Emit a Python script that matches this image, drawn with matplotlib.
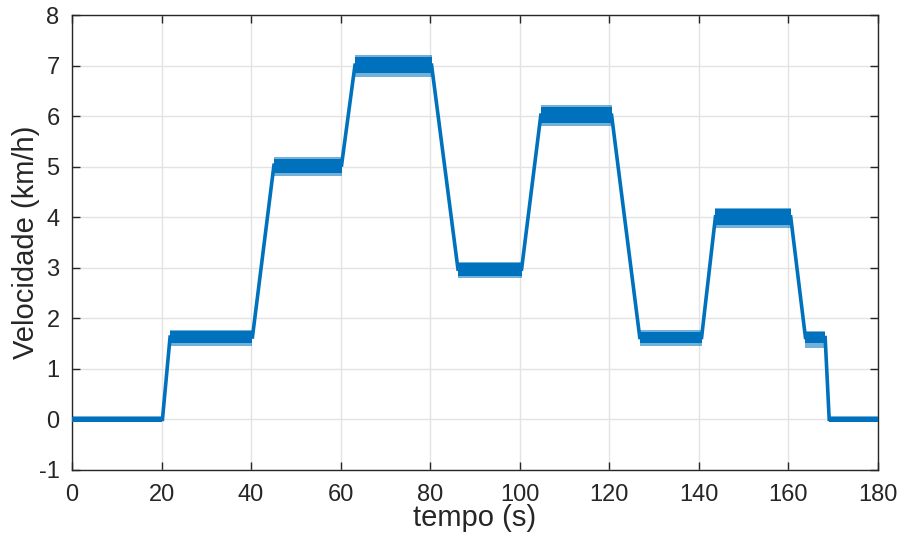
import matplotlib
matplotlib.use("Agg")
import matplotlib.pyplot as plt
from matplotlib import font_manager
import numpy as np

plt.rcParams["axes.unicode_minus"] = False

# ---- data ----
# centre path of the speed signal (breakpoints)
t_path = [0, 20.2, 21.9, 40.3, 45.1, 60.2, 63.2, 80.3, 86.2, 100.4, 104.7,
          120.5, 126.8, 140.6, 143.7, 160.5, 163.8, 168.2, 169.1, 180]
v_path = [0, 0, 1.63, 1.63, 5.03, 5.03, 7.01, 7.01, 2.97, 2.97, 6.02,
          6.02, 1.62, 1.62, 4.01, 4.01, 1.62, 1.62, 0, 0]

# plateaus: start, end, dense noise band (lo, hi), sparse spike band (lo, hi)
plat_start = [0, 21.9, 45.1, 63.2, 86.2, 104.7, 126.8, 143.7, 163.8, 169.1]
plat_end = [20.2, 40.3, 60.2, 80.3, 100.4, 120.5, 140.6, 160.5, 168.2, 180]
dense_lo = [-0.05, 1.52, 4.87, 6.86, 2.84, 5.86, 1.52, 3.84, 1.52, -0.05]
dense_hi = [0.05, 1.74, 5.16, 7.17, 3.09, 6.18, 1.72, 4.17, 1.73, 0.05]
spike_lo = [-0.06, 1.45, 4.81, 6.78, 2.80, 5.81, 1.46, 3.78, 1.42, -0.06]
spike_hi = [0.06, 1.77, 5.19, 7.20, 3.11, 6.21, 1.76, 4.19, 1.75, 0.06]

x_ticks = list(range(0, 181, 20))
y_ticks = list(range(-1, 9))

color = "#0072BD"
axis_col = "#262626"

names = {f.name for f in font_manager.fontManager.ttflist}
has_narrow = "Liberation Sans Narrow" in names
narrow = ["Liberation Sans Narrow", "Liberation Sans", "DejaVu Sans"] \
    if has_narrow else ["Liberation Sans", "DejaVu Sans"]
regular = ["Liberation Sans", "DejaVu Sans"]

fig = plt.figure(figsize=(9.06, 5.33), dpi=100)
ax = fig.add_axes([72 / 906, 63 / 533, 806 / 906, 455 / 533])

ax.plot(t_path, v_path, color=color, lw=2.6, solid_joinstyle="miter", zorder=3)
for s, e, dl, dh, sl, sh in zip(plat_start, plat_end, dense_lo, dense_hi, spike_lo, spike_hi):
    ax.fill_between([s, e], [sl, sl], [sh, sh], color=color, alpha=0.55, lw=0, zorder=2)
    ax.fill_between([s, e], [dl, dl], [dh, dh], color=color, lw=0, zorder=3)

ax.set_xlim(0, 180)
ax.set_ylim(-1, 8)
ax.set_xticks(x_ticks)
ax.set_yticks(y_ticks)
ax.grid(True, color="#e3e3e3", lw=1.0)
ax.set_axisbelow(True)

for sp in ax.spines.values():
    sp.set_color(axis_col)
    sp.set_linewidth(1.0)
tick_size = 19 if has_narrow else 17
ax.tick_params(direction="in", length=6, width=1.0, color=axis_col,
               top=True, right=True, labelcolor=axis_col, labelsize=tick_size,
               labelfontfamily=narrow[0])
ax.tick_params(axis="x", pad=10)
ax.tick_params(axis="y", pad=9)

ax.set_xlabel("tempo (s)", family=narrow, fontsize=23 if has_narrow else 21,
              color=axis_col, labelpad=-1)
ax.set_ylabel("Velocidade (km/h)", family=regular, fontsize=21, color=axis_col, labelpad=-1)

fig.savefig("out.png", dpi=100)
